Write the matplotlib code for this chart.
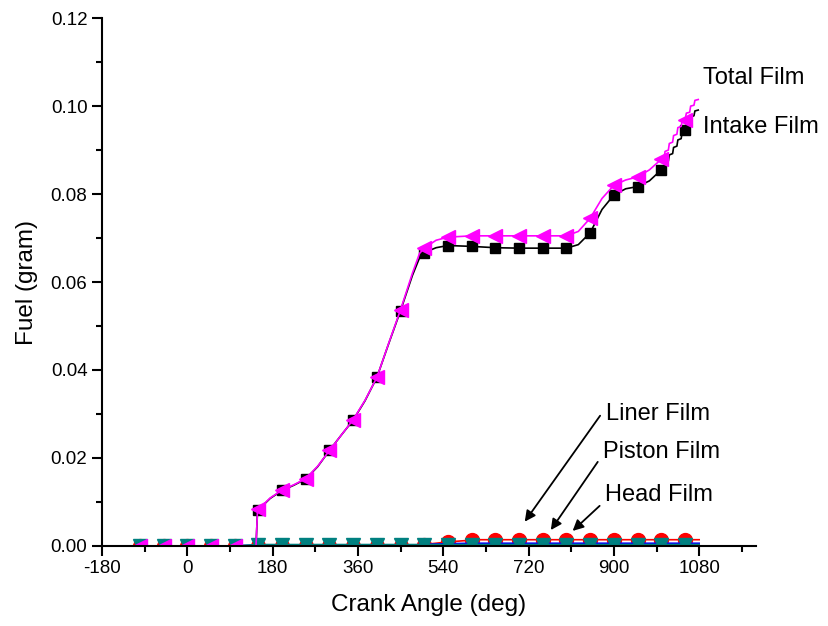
import matplotlib
matplotlib.use("Agg")
import matplotlib.pyplot as plt
from matplotlib.ticker import MultipleLocator, FormatStrFormatter

plt.rcParams['font.family'] = ['Liberation Sans', 'DejaVu Sans']
plt.rcParams['axes.unicode_minus'] = False

# Crank angle (deg) and film fuel mass (gram)
angle_main = [-100, -50, 0, 50, 100, 140, 145, 148, 150, 175, 200, 225, 250, 275,
              300, 325, 350, 375, 400, 425, 450, 475, 490, 500, 525, 550, 600,
              650, 700, 750, 800, 825, 850, 875, 900, 925, 950, 975, 1000,
              1006, 1008, 1015, 1017, 1024, 1026, 1033, 1035, 1042, 1044, 1050,
              1053, 1060, 1062, 1069, 1071, 1078]

intake_film = [0, 0, 0, 0, 0, 0, 0, 0.0075, 0.0082, 0.0108, 0.0126, 0.0138, 0.0152, 0.0180,
               0.0217, 0.0252, 0.0286, 0.0330, 0.0383, 0.0460, 0.0535, 0.0615, 0.0655, 0.0667,
               0.0678, 0.0683, 0.0681, 0.0678, 0.0677, 0.0677, 0.0677, 0.0685, 0.0712, 0.0765,
               0.0798, 0.0812, 0.0817, 0.0830, 0.0855,
               0.0858, 0.0872, 0.0875, 0.0889, 0.0892, 0.0906, 0.0909, 0.0923, 0.0926, 0.0940,
               0.0945, 0.0958, 0.0961, 0.0975, 0.0978, 0.0989, 0.0991]

total_film = [0, 0, 0, 0, 0, 0, 0, 0.0076, 0.0083, 0.0109, 0.0127, 0.0139, 0.0153, 0.0181,
              0.0217, 0.0252, 0.0287, 0.0331, 0.0383, 0.0461, 0.0537, 0.0620, 0.0665, 0.0677,
              0.0695, 0.0702, 0.0705, 0.0705, 0.0705, 0.0705, 0.0705, 0.0715, 0.0745, 0.0790,
              0.0820, 0.0832, 0.0839, 0.0855, 0.0879,
              0.0882, 0.0897, 0.0900, 0.0915, 0.0918, 0.0933, 0.0936, 0.0951, 0.0954, 0.0965,
              0.0968, 0.0984, 0.0986, 0.1000, 0.1002, 0.1013, 0.1015]

angle_low = [-100, -50, 0, 50, 100, 150, 200, 250, 300, 350, 400, 450, 470, 500, 516,
             550, 600, 615, 650, 700, 750, 800, 850, 900, 950, 1000, 1050, 1080]
liner_film = [0, 0, 0, 0, 0, 0, 0, 0, 0, 0, 0, 0, 0, 0.0003, 0.0005,
              0.0009, 0.0013, 0.0014, 0.0014, 0.0014, 0.0014, 0.0014, 0.0014, 0.0014,
              0.0014, 0.0014, 0.0014, 0.0014]
piston_film = [0, 0, 0, 0, 0, 0.0002, 0.0002, 0.0002, 0.0002,
               0.0002, 0.0002, 0.0002, 0.0002, 0.0003, 0.0004,
               0.0005, 0.0006, 0.0006, 0.0006, 0.0006, 0.0006, 0.0006, 0.0006, 0.0006,
               0.0006, 0.0006, 0.0006, 0.0006]
head_film = [0, 0, 0, 0, 0, 0.0003, 0.0003, 0.0003, 0.0003,
             0.0003, 0.0003, 0.0003, 0.0003, 0.0003, 0.0003,
             0.0003, 0.0003, 0.0003, 0.0003, 0.0003, 0.0003, 0.0003, 0.0003, 0.0003,
             0.0003, 0.0003, 0.0003, 0.0003]

marker_angles = [-100 + 50 * k for k in range(24)]


def every_marker(xs):
    return [xs.index(a) for a in marker_angles if a in xs]


fig = plt.figure(figsize=(8.29, 6.26), dpi=100)
ax = fig.add_axes([0.123, 0.128, 0.789, 0.843])

ax.plot(angle_main, intake_film, color='black', lw=1.2, marker='s', ms=7,
        markevery=every_marker(angle_main), zorder=3)
ax.plot(angle_low, liner_film, color='#FF0000', lw=1.2, marker='o', ms=10,
        markevery=every_marker(angle_low), zorder=4)
ax.plot(angle_low, piston_film, color='#0000FF', lw=1.2, marker='^', ms=7,
        markevery=every_marker(angle_low), zorder=5)
ax.plot(angle_low, head_film, color='#008080', lw=1.2, marker='v', ms=10,
        markevery=every_marker(angle_low), zorder=6)
ax.plot(angle_main, total_film, color='#FF00FF', lw=1.2, marker='<', ms=10,
        markevery=every_marker(angle_main), zorder=7)

ax.set_xlim(-180, 1200)
ax.set_ylim(0, 0.12)
ax.xaxis.set_major_locator(MultipleLocator(180))
ax.xaxis.set_minor_locator(MultipleLocator(90))
ax.yaxis.set_major_locator(MultipleLocator(0.02))
ax.yaxis.set_minor_locator(MultipleLocator(0.01))
ax.yaxis.set_major_formatter(FormatStrFormatter('%.2f'))

for side in ('top', 'right'):
    ax.spines[side].set_visible(False)
for side in ('left', 'bottom'):
    ax.spines[side].set_linewidth(1.5)
    ax.spines[side].set_zorder(8)

ax.tick_params(which='major', direction='out', length=7, width=1.5, labelsize=13.5)
ax.tick_params(which='minor', direction='out', length=4, width=1.5)

ax.set_xlabel('Crank Angle (deg)', fontsize=17.5, labelpad=12)
ax.set_ylabel('Fuel (gram)', fontsize=17.5, labelpad=9)

# Curve labels
ax.text(1088, 0.1064, 'Total Film', fontsize=17, va='center', ha='left')
ax.text(1088, 0.0952, 'Intake Film', fontsize=17, va='center', ha='left')
ax.text(883, 0.0300, 'Liner Film', fontsize=17, va='center', ha='left')
ax.text(877, 0.0214, 'Piston Film', fontsize=17, va='center', ha='left')
ax.text(881, 0.0116, 'Head Film', fontsize=17, va='center', ha='left')

arrow = dict(arrowstyle='-|>', color='black', lw=1.3, mutation_scale=16,
             shrinkA=0, shrinkB=0)
ax.annotate('', xy=(712, 0.0055), xytext=(871, 0.0296), arrowprops=arrow)
ax.annotate('', xy=(767, 0.0036), xytext=(866, 0.0191), arrowprops=arrow)
ax.annotate('', xy=(813, 0.0034), xytext=(870, 0.0091), arrowprops=arrow)

fig.savefig('out.png', dpi=100)
